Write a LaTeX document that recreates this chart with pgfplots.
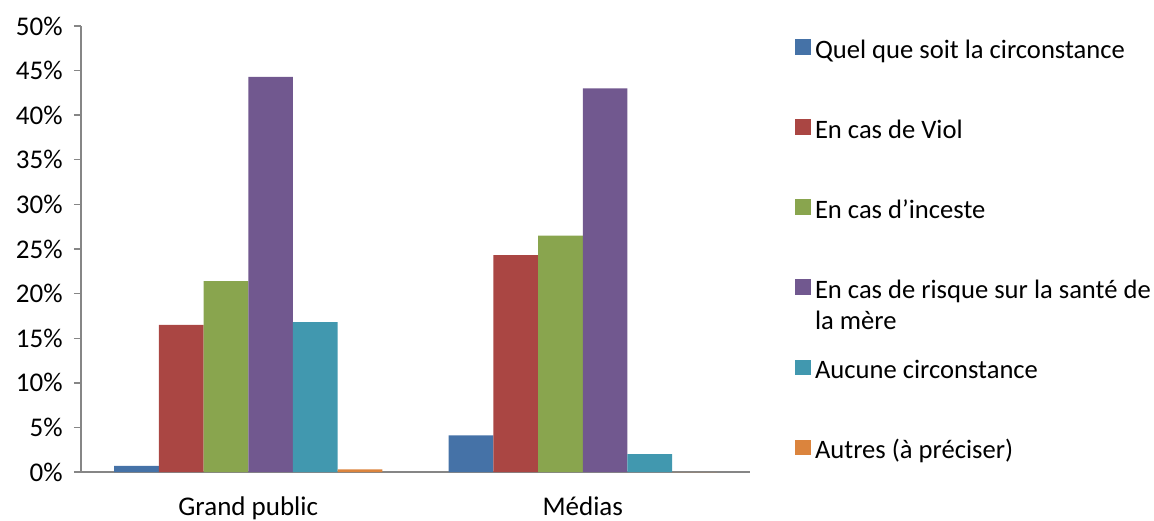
\documentclass[border=0pt]{standalone}
\usepackage{pgfplots}
\pgfplotsset{compat=1.18}
\usepackage{fontspec}
\setmainfont{Carlito}
\definecolor{c1}{HTML}{4572A7}
\definecolor{c2}{HTML}{AA4643}
\definecolor{c3}{HTML}{89A54E}
\definecolor{c4}{HTML}{71588F}
\definecolor{c5}{HTML}{4198AF}
\definecolor{c6}{HTML}{DB843D}
\definecolor{axgray}{HTML}{868686}
\newcommand{\legtxt}[1]{\raisebox{0pt}[9pt][0pt]{#1}}
\begin{document}
\fontsize{13.5}{15.5}\selectfont
\begin{tikzpicture}
\path[use as bounding box] (0,0) rectangle (577pt,260pt);
\begin{axis}[
  at={(40.5pt,24pt)}, anchor=south west,
  width=334.5pt, height=223pt, scale only axis,
  ybar=0pt, bar width=22.35pt,
  xmin=-0.5, xmax=1.5, ymin=0, ymax=50,
  axis x line*=bottom, axis y line*=left,
  axis line style={-, draw=axgray, line width=0.7pt},
  tick align=outside, major tick length=3.5pt,
  tick style={draw=axgray, line width=0.7pt},
  xtick={0,1}, xticklabels={Grand public, Médias},
  x tick style={draw=none},
  extra x ticks={-0.5,0.5,1.5}, extra x tick labels={},
  extra x tick style={major tick length=4.5pt, tick style={draw=axgray, line width=0.7pt}},
  ytick={0,5,...,50},
  yticklabel={\pgfmathprintnumber{\tick}\%},
  /pgf/number format/assume math mode=true,
  ticklabel style={font=\fontsize{13.5}{15.5}\selectfont},
  x tick label style={yshift=-4pt},
  y tick label style={xshift=-1pt},
  legend image code/.code={\path[#1,draw=none] (0pt,-1.8pt) rectangle (7.8pt,6pt);},
  legend cell align=left,
  legend style={at={(1,1)}, anchor=north west, xshift=22.5pt, yshift=-6.5pt,
    draw=none, fill=none, inner sep=0pt, row sep=28.5pt,
    font=\fontsize{13.3}{15.5}\selectfont,
    nodes={inner sep=0pt},
    /tikz/every odd column/.append style={column sep=2pt}},
]
\addplot[fill=c1, draw=none] coordinates {(0,0.7) (1,4.1)};
\addplot[fill=c2, draw=none] coordinates {(0,16.5) (1,24.3)};
\addplot[fill=c3, draw=none] coordinates {(0,21.4) (1,26.5)};
\addplot[fill=c4, draw=none] coordinates {(0,44.3) (1,43.0)};
\addplot[fill=c5, draw=none] coordinates {(0,16.8) (1,2.0)};
\addplot[fill=c6, draw=none] coordinates {(0,0.3) (1,0)};
\addlegendentry{\legtxt{Quel que soit la circonstance}}
\addlegendentry{\legtxt{En cas de Viol}}
\addlegendentry{\legtxt{En cas d’inceste}}
\addlegendentry{\legtxt{\begin{tabular}[t]{@{}l@{}}En cas de risque sur la santé de\\la mère\end{tabular}}}
\addlegendentry{\legtxt{Aucune circonstance}}
\addlegendentry{\legtxt{Autres (à préciser)}}
\end{axis}
\end{tikzpicture}
\end{document}
